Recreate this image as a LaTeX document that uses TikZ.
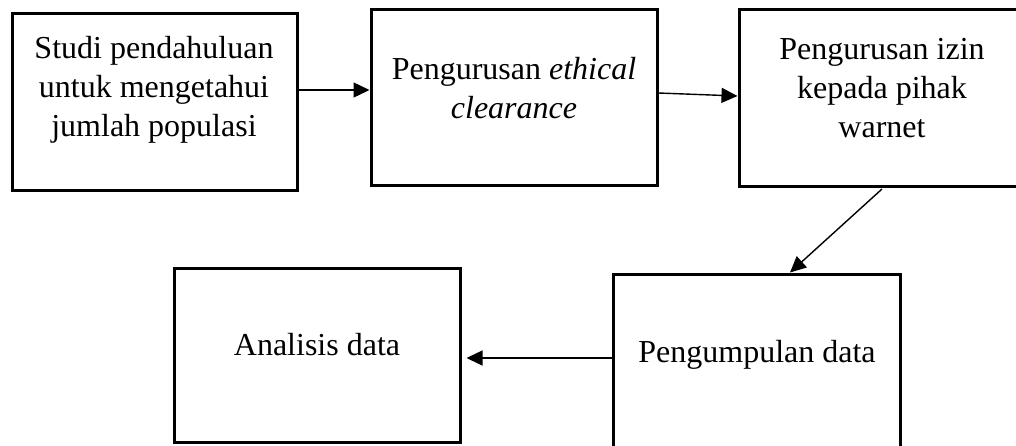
\documentclass[tikz,border=0pt]{standalone}
\usepackage{fontspec}
\setmainfont{Liberation Serif}
\usetikzlibrary{arrows.meta}
\begin{document}
\begin{tikzpicture}[x=1pt,y=-1pt,
  box/.style={draw, line width=3pt, inner sep=0pt},
  lbl/.style={align=center, font=\fontsize{32}{39}\selectfont, inner sep=0pt},
  arr/.style={line width=1.4pt, -{Triangle[length=16pt,width=15pt]}}]
\useasboundingbox (0,0) rectangle (1016,445);
\clip (0,0) rectangle (1016,445);
% boxes
\node[box, minimum width=285pt, minimum height=177pt] (b1) at (154.5,101.5) {};
\node[box, minimum width=286pt, minimum height=176pt] (b2) at (514,97) {};
\node[box, minimum width=286pt, minimum height=177pt] (b3) at (882,97.5) {};
\node[box, minimum width=287pt, minimum height=186pt] (b4) at (756.5,367) {};
\node[box, minimum width=286pt, minimum height=174pt] (b5) at (317,355) {};
% texts
\node[lbl] (t1) at (154,90) {Studi pendahuluan\\untuk mengetahui\\jumlah populasi};
\node[lbl] (t2) at (514,88) {Pengurusan \textit{ethical}\\\textit{clearance}};
\node[lbl] (t3) at (882,88) {Pengurusan izin\\kepada pihak\\warnet};
\node[lbl, anchor=base] (t4) at (757,362) {Pengumpulan data};
\node[lbl, anchor=base] (t5) at (317,355) {Analisis data};
% arrows
\draw[arr] ([yshift=11.5pt]b1.east) -- ([yshift=7pt]b2.west);
\draw[arr] ([yshift=4pt]b2.east) -- ([yshift=1.5pt]b3.west);
\draw[arr] ([yshift=-1.5pt]b3.south) -- ([xshift=33.5pt]b4.north);
\draw[arr] ([yshift=9pt]b4.west) -- ([xshift=5pt,yshift=-3pt]b5.east);
\end{tikzpicture}
\end{document}
